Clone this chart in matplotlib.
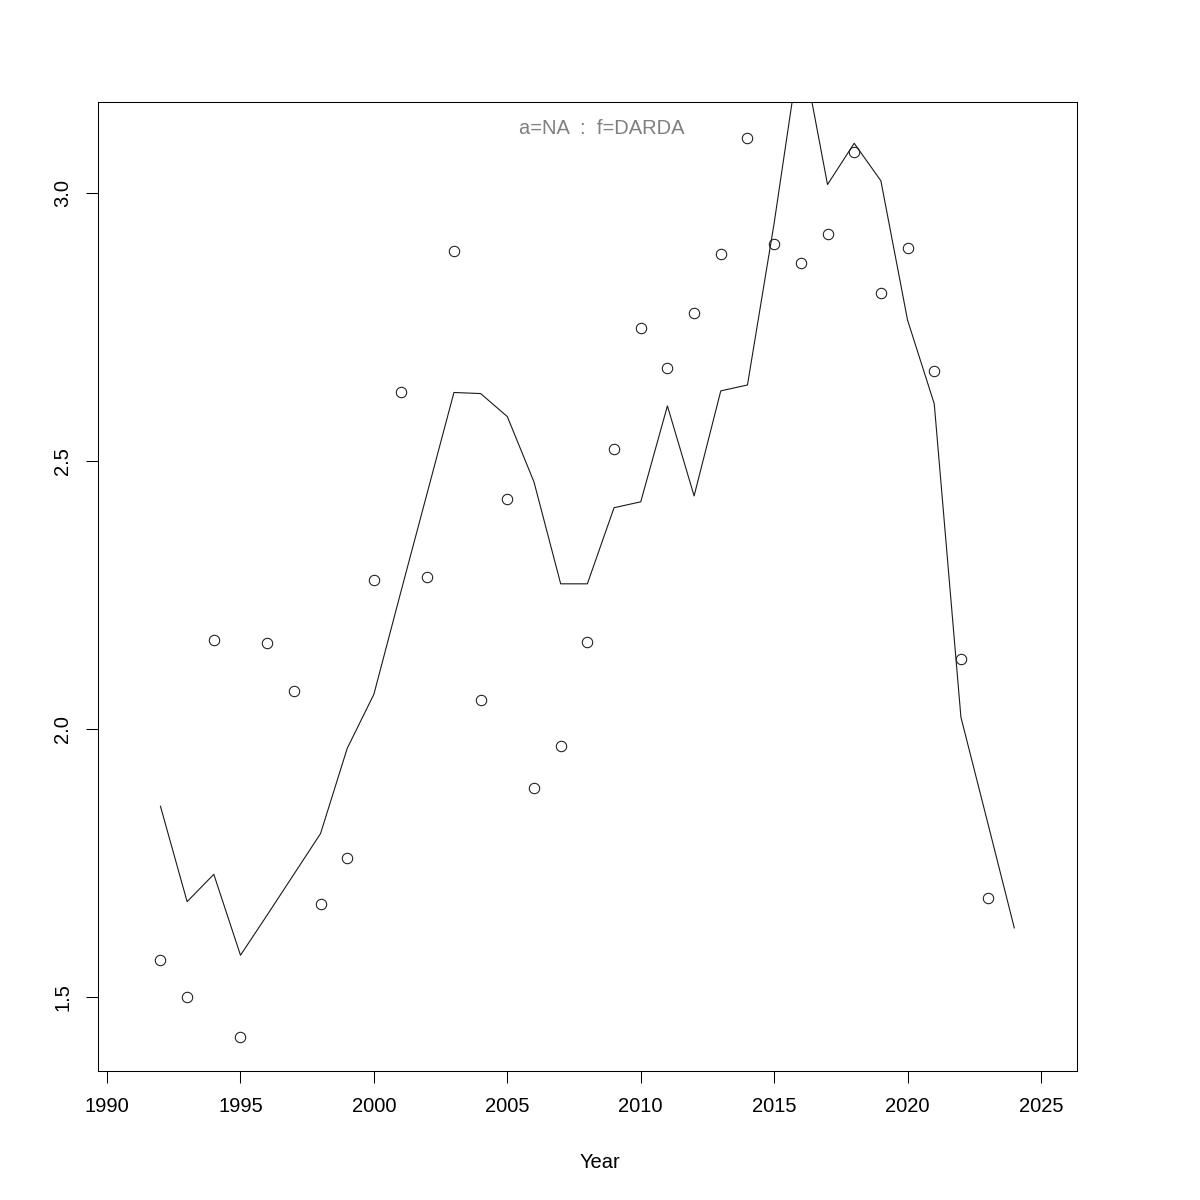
import matplotlib
matplotlib.use("Agg")
import matplotlib.pyplot as plt

# observed points
obs_years = [1992, 1993, 1994, 1995, 1996, 1997, 1998, 1999, 2000, 2001, 2002,
             2003, 2004, 2005, 2006, 2007, 2008, 2009, 2010, 2011, 2012, 2013,
             2014, 2015, 2016, 2017, 2018, 2019, 2020, 2021, 2022, 2023]
obs_values = [1.570, 1.500, 2.167, 1.426, 2.161, 2.071, 1.673, 1.760, 2.278, 2.629, 2.284,
              2.892, 2.054, 2.430, 1.890, 1.968, 2.162, 2.522, 2.748, 2.674, 2.777, 2.886,
              3.103, 2.905, 2.869, 2.924, 3.076, 2.813, 2.897, 2.668, 2.131, 1.684]

# fitted line
fit_years = [1992, 1993, 1994, 1995, 1996, 1997, 1998, 1999, 2000, 2001, 2002,
             2003, 2004, 2005, 2006, 2007, 2008, 2009, 2010, 2011, 2012, 2013,
             2014, 2015, 2016, 2017, 2018, 2019, 2020, 2021, 2022, 2023, 2024]
fit_values = [1.856, 1.678, 1.729, 1.578, 1.653, 1.729, 1.805, 1.964, 2.065, 2.254, 2.441,
              2.628, 2.626, 2.583, 2.461, 2.271, 2.271, 2.413, 2.424, 2.603, 2.435, 2.631,
              2.642, 2.944, 3.280, 3.016, 3.093, 3.023, 2.763, 2.607, 2.022, 1.826, 1.629]

x_ticks = [1990, 1995, 2000, 2005, 2010, 2015, 2020, 2025]
y_ticks = [1.5, 2.0, 2.5, 3.0]
legend_text = "a=NA  :  f=DARDA"
x_label = "Year"

plt.rcParams['font.family'] = ['Liberation Sans', 'DejaVu Sans']

fig = plt.figure(figsize=(12, 12), dpi=100)
ax = fig.add_axes([98/1200, 1 - 1071/1200, (1077-98)/1200, (1071-102)/1200])

ax.plot(fit_years, fit_values, color='#1a1a1a', lw=0.8)
ax.plot(obs_years, obs_values, linestyle='none', marker='o', markersize=7.5,
        markerfacecolor='none', markeredgecolor='#1a1a1a', markeredgewidth=0.75)

ax.set_xlim(1989.66, 2026.35)
ax.set_ylim(1.362, 3.170)
ax.set_xticks(x_ticks)
ax.set_xticklabels([str(t) for t in x_ticks])
ax.set_yticks(y_ticks)
ax.set_yticklabels([f"{t:.1f}" for t in y_ticks], rotation=90, va='center', ha='right')

ax.tick_params(axis='both', direction='out', length=8.6, width=0.75, labelsize=14.5, pad=10)
for s in ax.spines.values():
    s.set_linewidth(0.75)

ax.text(0.515, 0.973, legend_text, transform=ax.transAxes, ha='center', va='center',
        color='#808080', fontsize=14.5)

fig.text(600/1200, 1 - 1162/1200, x_label, ha='center', va='center', fontsize=14.5)

fig.savefig("out.png", dpi=100, facecolor='white')
